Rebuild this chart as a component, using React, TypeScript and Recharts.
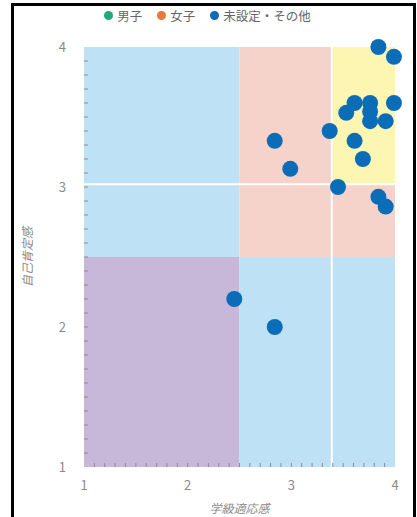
import React from 'react';
import {
  ScatterChart, Scatter, XAxis, YAxis, ReferenceArea, ReferenceLine, Legend,
} from 'recharts';

// 学級適応感 (x) / 自己肯定感 (y)
const gakkyu = [3.84, 3.99, 3.61, 3.76, 3.99, 3.53, 3.76, 3.76, 3.91, 3.37, 3.61, 2.84, 3.69, 2.99, 3.45, 3.84, 3.91, 2.45, 2.84];
const jiko = [4.0, 3.93, 3.6, 3.6, 3.6, 3.53, 3.54, 3.47, 3.47, 3.4, 3.33, 3.33, 3.2, 3.13, 3.0, 2.93, 2.86, 2.2, 2.0];

const majorTicks = [1, 2, 3, 4];
const minorTicks = [
  1.1, 1.2, 1.3, 1.4, 1.5, 1.6, 1.7, 1.8, 1.9, 2.0,
  2.1, 2.2, 2.3, 2.4, 2.5, 2.6, 2.7, 2.8, 2.9, 3.0,
  3.1, 3.2, 3.3, 3.4, 3.5, 3.6, 3.7, 3.8, 3.9,
];
const meanX = 3.39;
const meanY = 3.02;
const legendItems = [
  { name: '男子', color: '#20a878' },
  { name: '女子', color: '#e8793a' },
  { name: '未設定・その他', color: '#0b6cb8' },
];

const others = gakkyu.map((x, i) => ({ x, y: jiko[i] }));
const boys: { x: number; y: number }[] = [];
const girls: { x: number; y: number }[] = [];

const font = '"Noto Sans CJK JP", "Noto Sans", sans-serif';
const tickColor = '#8c8c8c';

const Dot = (props: any) => (
  <circle cx={props.cx} cy={props.cy} r={8} fill={props.fill} />
);

// short inward tick at the left edge of the plot
const LeftTick = (p: any) => {
  const x = Math.min(p.x1, p.x2);
  return <line x1={x} y1={p.y1} x2={x + 4} y2={p.y1} stroke={tickColor} strokeWidth={1} />;
};
// short inward tick at the bottom edge of the plot
const BottomTick = (p: any) => {
  const y = Math.max(p.y1, p.y2);
  return <line x1={p.x1} y1={y} x2={p.x1} y2={y - 4} stroke={tickColor} strokeWidth={1} />;
};

const LegendContent = () => (
  <div style={{ display: 'flex', justifyContent: 'center', gap: 15, fontFamily: font, fontSize: 12.5, color: '#666', paddingLeft: 20 }}>
    {legendItems.map((it) => (
      <div key={it.name} style={{ display: 'flex', alignItems: 'center' }}>
        <span style={{ display: 'inline-block', width: 9, height: 9, borderRadius: '50%', background: it.color, marginRight: 4 }} />
        <span>{it.name}</span>
      </div>
    ))}
  </div>
);

const App: React.FC = () => {
  return (
    <div style={{ position: 'absolute', left: 0, top: 0, width: 417, height: 517, overflow: 'hidden', background: '#fff', fontFamily: font }}>
      <div style={{ position: 'absolute', left: 11, top: 3, width: 399, height: 540, border: '3px solid #000' }} />
      <div style={{ position: 'absolute', left: 0, top: 0 }}>
        <ScatterChart width={417} height={517} margin={{ top: 17, right: 22, bottom: 0, left: 0 }}>
          <ReferenceArea x1={1} x2={2.5} y1={2.5} y2={4} fill="#bfe1f5" fillOpacity={1} stroke="none" />
          <ReferenceArea x1={2.5} x2={meanX} y1={2.5} y2={4} fill="#f6d3ca" fillOpacity={1} stroke="none" />
          <ReferenceArea x1={meanX} x2={4} y1={meanY} y2={4} fill="#fdf6b2" fillOpacity={1} stroke="none" />
          <ReferenceArea x1={meanX} x2={4} y1={2.5} y2={meanY} fill="#f6d3ca" fillOpacity={1} stroke="none" />
          <ReferenceArea x1={1} x2={2.5} y1={1} y2={2.5} fill="#c7b8da" fillOpacity={1} stroke="none" />
          <ReferenceArea x1={2.5} x2={4} y1={1} y2={2.5} fill="#bfe1f5" fillOpacity={1} stroke="none" />
          <ReferenceLine x={meanX} stroke="#ffffff" strokeWidth={2} />
          <ReferenceLine y={meanY} stroke="#ffffff" strokeWidth={2} />
          {minorTicks.map((t) => (
            <ReferenceLine key={`y${t}`} y={t} shape={LeftTick} />
          ))}
          {minorTicks.map((t) => (
            <ReferenceLine key={`x${t}`} x={t} shape={BottomTick} />
          ))}

          <XAxis
            type="number" dataKey="x" domain={[1, 4]} ticks={majorTicks}
            axisLine={false} tickLine={false} height={50} tickSize={6} tickMargin={8}
            tick={{ fill: '#8a8a8a', fontSize: 13, fontFamily: font }}
            label={{ value: '学級適応感', position: 'insideBottom', offset: 4, fill: '#8a8a8a', fontSize: 12, fontStyle: 'italic', fontFamily: font }}
          />
          <YAxis
            type="number" dataKey="y" domain={[1, 4]} ticks={majorTicks}
            axisLine={false} tickLine={false} width={84} tickSize={6} tickMargin={12}
            tick={{ fill: '#8a8a8a', fontSize: 13, fontFamily: font }}
            label={{ value: '自己肯定感', angle: -90, position: 'insideLeft', offset: 28, fill: '#8a8a8a', fontSize: 12, fontStyle: 'italic', fontFamily: font, style: { textAnchor: 'middle' } }}
          />

          <Legend
            verticalAlign="top"
            wrapperStyle={{ top: 6, height: 30 }}
            content={<LegendContent />}
          />
          <Scatter name="男子" data={boys} fill="#20a878" isAnimationActive={false} shape={Dot} />
          <Scatter name="女子" data={girls} fill="#e8793a" isAnimationActive={false} shape={Dot} />
          <Scatter name="未設定・その他" data={others} fill="#0b6cb8" isAnimationActive={false} shape={Dot} />
        </ScatterChart>
      </div>
    </div>
  );
};

export default App;
